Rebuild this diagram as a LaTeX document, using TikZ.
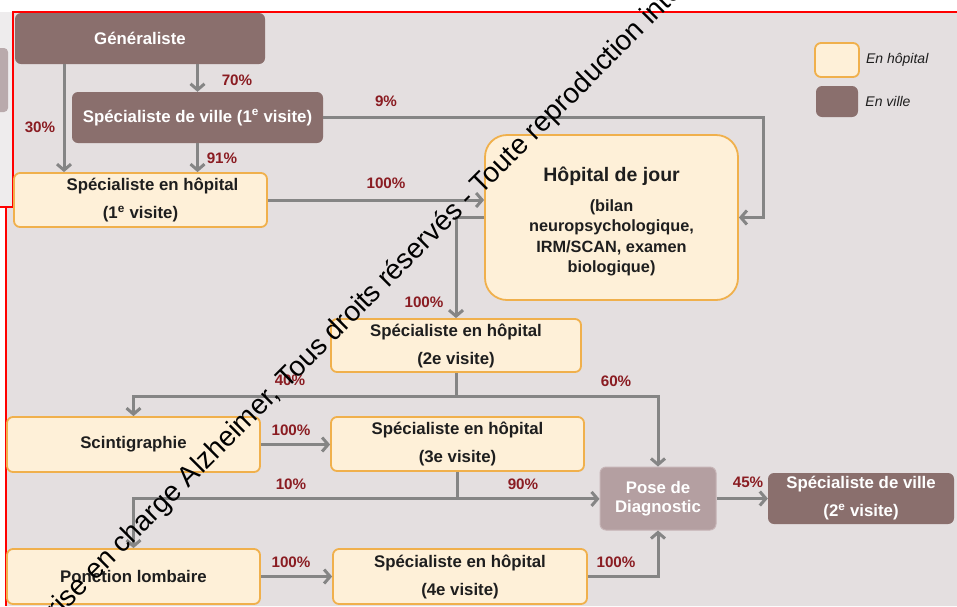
\documentclass[tikz,border=0pt]{standalone}
\usepackage{fontspec}
\setmainfont{Liberation Sans}
\usetikzlibrary{arrows.meta,positioning}
\usepackage{xcolor}
\definecolor{bgmain}{HTML}{E4DFE0}
\definecolor{bgleft}{HTML}{EEECED}
\definecolor{leftbox}{HTML}{B9AAAC}
\definecolor{villefill}{HTML}{8A6F6D}
\definecolor{hopfill}{HTML}{FEF0D8}
\definecolor{hopline}{HTML}{F0B04C}
\definecolor{posefill}{HTML}{B49FA1}
\definecolor{poseline}{HTML}{C6B4B6}
\definecolor{arrowgray}{HTML}{858585}
\definecolor{pctred}{HTML}{8A1C22}
\definecolor{txt}{HTML}{1E1E1E}

\begin{document}
\begin{tikzpicture}[x=1pt,y=-1pt]
	\tikzset{box/.style = {rectangle, rounded corners=6pt, minimum width=253pt,
			minimum height=54pt, inner sep=2pt, align=center,
			font=\bfseries\fontsize{16.8}{28}\selectfont}}
	\tikzset{hop/.style = {box, draw=hopline, line width=1.8pt, fill=hopfill, text=txt}}
	\tikzset{ville/.style = {box, fill=villefill, text=white}}
	\tikzset{edge/.style = {draw=arrowgray, line width=3pt,
			-{Straight Barb[length=6pt,width=14pt]}}}
	\tikzset{pct/.style = {text=pctred, inner sep=0pt,
			font=\bfseries\fontsize{15.2}{15}\selectfont}}
	\tikzset{legtxt/.style = {text=txt, inner sep=0pt,
			font=\itshape\fontsize{14}{14}\selectfont}}
	\tikzset{wmark/.style = {text=black, inner sep=0pt, rotate=45,
			font=\fontsize{28}{30}\selectfont}}
	\useasboundingbox (0,0) rectangle (957,606);
	\clip (0,0) rectangle (957,606);
	% background and frame
	\fill[white] (0,0) rectangle (957,606);
	\fill[bgleft] (0,12) rectangle (13,207);
	\fill[leftbox, rounded corners=4pt] (-10,48) rectangle (8,112);
	\fill[bgmain] (13,12) -- (957,12) -- (957,606) -- (6,606) -- (6,207) -- (13,207) -- cycle;
	\draw[red, line width=1.5pt] (13,207) -- (13,12) -- (957,12);
	\draw[red, line width=1.5pt] (0,207) -- (13,207);
	\draw[red, line width=1.5pt] (6,207) -- (6,606);
	% vertices
	\node[ville, minimum width=250pt, minimum height=51pt] (gen) at (140,38.5) {Généraliste};
	\node[ville, minimum width=251pt, minimum height=51pt] (sv1) at (197.5,117.5)
		{Spécialiste de ville (1\textsuperscript{e} visite)};
	\node[hop] (sh1) at (140.5,200) {\hspace*{24pt}Spécialiste en hôpital\\(1\textsuperscript{e} visite)};
	\node[hop, minimum height=165pt, rounded corners=22pt,
		font=\bfseries\fontsize{16.3}{20.5}\selectfont] (hdj) at (611.5,217.5)
		{\rule{0pt}{23pt}{\fontsize{19.5}{24}\selectfont Hôpital de jour}\\[9pt](bilan\\neuropsychologique,\\IRM/SCAN, examen\\biologique)};
	\node[hop, minimum width=250pt, minimum height=53pt] (sh2) at (456,345.5)
		{Spécialiste en hôpital\\(2e visite)};
	\node[hop, minimum height=55pt] (scin) at (133.5,444.5) {Scintigraphie};
	\node[hop] (sh3) at (457.5,444) {Spécialiste en hôpital\\(3e visite)};
	\node[hop, minimum height=55pt] (pl) at (133.5,576.5) {Ponction lombaire};
	\node[hop, minimum width=254pt, minimum height=55pt] (sh4) at (460,576.5)
		{Spécialiste en hôpital\\(4e visite)};
	\node[ville, fill=posefill, draw=poseline, line width=1pt, minimum width=116pt,
		minimum height=63pt, font=\bfseries\fontsize{16.8}{19}\selectfont] (pose) at (658,498.5)
		{Pose de\\Diagnostic};
	\node[ville, minimum width=186pt, minimum height=51pt] (sv2) at (861,498.5)
		{Spécialiste de ville\\(2\textsuperscript{e} visite)};
	% legend
	\node[hop, minimum width=44pt, minimum height=34pt] (leghop) at (837,60) {};
	\node[ville, minimum width=42pt, minimum height=31pt] (legville) at (837,101.5) {};
	\node[legtxt, right=6pt of leghop] (leghoptxt) {En hôpital};
	\node[legtxt, right=7pt of legville] (legvilletxt) {En ville};
	%edges
	\coordinate (g30) at ([xshift=-76pt]gen.south);
	\coordinate (j2) at ([yshift=-24pt]sh2.south);
	\coordinate (j3) at ([yshift=-27pt]sh3.south);
	\draw[edge] (gen.south -| sv1) -- (sv1.north);
	\draw[edge] (g30) -- (g30 |- sh1.north);
	\draw[edge] (sv1.south) -- (sv1.south |- sh1.north);
	\draw[edge] (sv1.east) -| ([xshift=25pt]hdj.east) -- (hdj.east);
	\draw[edge] (sh1.east) -- (sh1.east -| hdj.west);
	\draw[edge] (hdj.west) -| (sh2.north);
	\draw[edge] (sh2.south) -- (j2) -| (scin.north);
	\draw[edge] (j2) -| (pose.north);
	\draw[edge] (scin.east) -- (scin.east -| sh3.west);
	\draw[edge] (sh3.south) -- (j3) -| (pl.north);
	\draw[edge] (j3) -- (j3 -| pose.west);
	\draw[edge] (pl.east) -- (pl.east -| sh4.west);
	\draw[edge] (sh4.east) -| (pose.south);
	\draw[edge] (pose.east) -- (sv2.west);
	% percentages
	\node[pct] at (237,80) {70\%};
	\node[pct] at (40,127) {30\%};
	\node[pct] at (222,158) {91\%};
	\node[pct] at (386,101) {9\%};
	\node[pct] at (386,183) {100\%};
	\node[pct] at (424,302) {100\%};
	\node[pct] at (290,380) {40\%};
	\node[pct] at (616,381) {60\%};
	\node[pct] at (291,430) {100\%};
	\node[pct] at (291,484) {10\%};
	\node[pct] at (523,484) {90\%};
	\node[pct] at (291,562) {100\%};
	\node[pct] at (616,562) {100\%};
	\node[pct] at (748,482) {45\%};
	% watermark
	\node[wmark, anchor=base west] (wm1) at (287,390) {Tous droits réservés - Toute reproduction interdite};
	\node[wmark, anchor=base east] (wm0) at (281.5,395.5) {prise en charge Alzheimer,};
\end{tikzpicture}
\end{document}
